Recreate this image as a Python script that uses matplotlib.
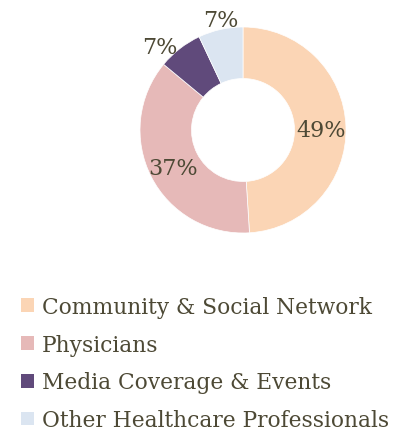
import numpy as np
import matplotlib.pyplot as plt
from matplotlib.patches import Patch

categories = ["Community & Social Network", "Physicians",
              "Media Coverage & Events", "Other Healthcare Professionals"]
shares = [49, 37, 7, 7]
colors = ["#FBD5B5", "#E6B9B8", "#604A7B", "#DBE5F1"]
text_color = "#4d4935"

plt.rcParams["font.family"] = ["DejaVu Serif"]

fig = plt.figure(figsize=(4.03, 4.31), dpi=100)
ax = fig.add_axes([140 / 403, 197 / 431, 206 / 403, 206 / 431])

wedges, _ = ax.pie(shares, colors=colors, startangle=90, counterclock=False,
                   radius=1.0, wedgeprops=dict(width=0.5, edgecolor="white", linewidth=0.5))
ax.set_xlim(-1, 1)
ax.set_ylim(-1, 1)
ax.set_aspect("equal")

# percentage labels: big slices inside the ring, small ones outside
total = sum(shares)
cum = 0
for v in shares:
    mid = (cum + v / 2) / total * 2 * np.pi
    cum += v
    sx, sy = np.sin(mid), np.cos(mid)
    label = f"{v}%"
    if v >= 15:
        ax.text(0.76 * sx, 0.76 * sy - 0.02, label, ha="center", va="center",
                fontsize=16, color=text_color)
    elif abs(sx) < 0.4:
        ax.text(0.98 * sx, 0.98 * sy, label, ha="center",
                va=("bottom" if sy > 0 else "top"), fontsize=16, color=text_color)
    else:
        ax.text(1.04 * sx, 1.02 * sy, label, ha=("right" if sx < 0 else "left"),
                va="center", fontsize=16, color=text_color)

handles = [Patch(facecolor=c, edgecolor="none") for c in colors]
leg = fig.legend(handles, categories, loc="upper left", bbox_to_anchor=(0.03, 0.331),
                 frameon=False, fontsize=15.7, handlelength=0.6, handleheight=0.6,
                 handletextpad=0.36, labelspacing=0.72, borderaxespad=0)
for t in leg.get_texts():
    t.set_color(text_color)

fig.savefig("out.png", dpi=100)
